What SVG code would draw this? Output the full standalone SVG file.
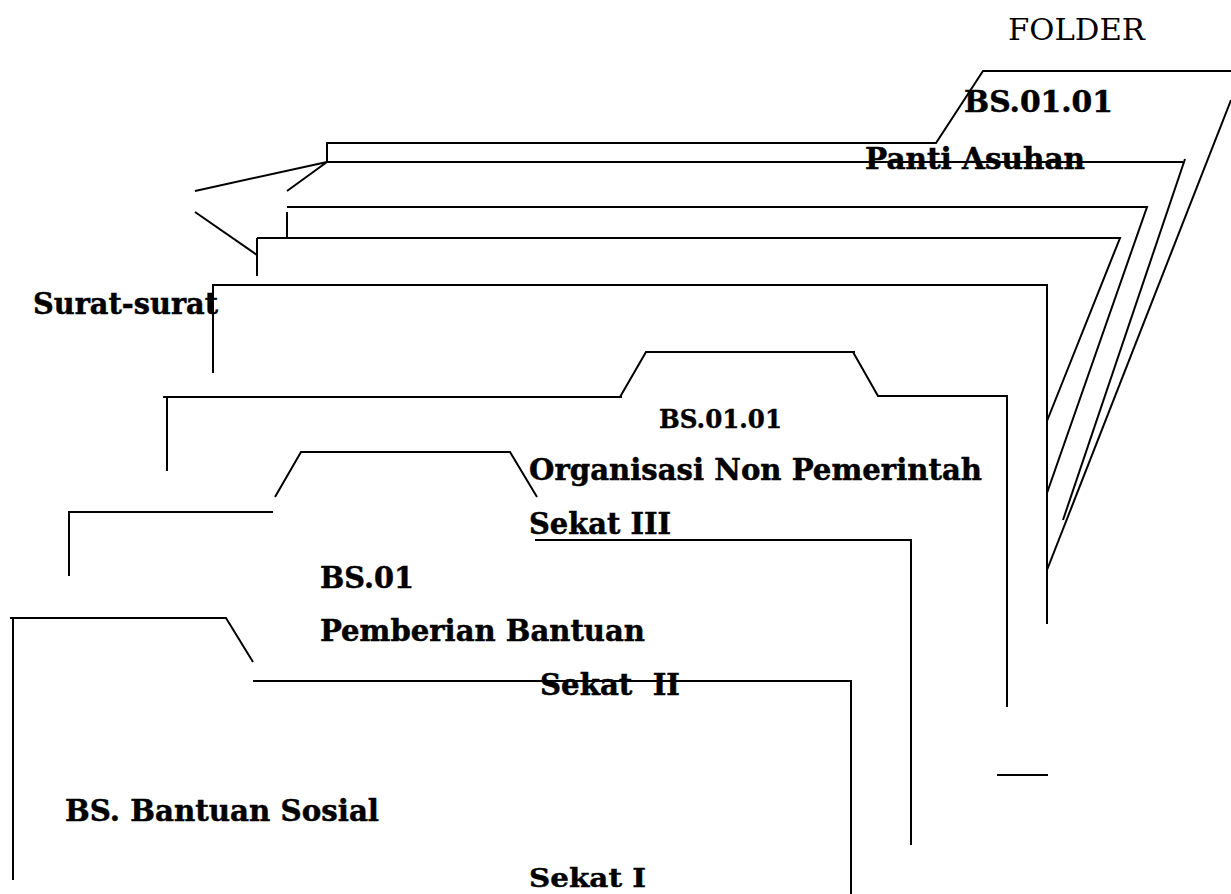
<svg xmlns="http://www.w3.org/2000/svg" width="1231" height="894" viewBox="0 0 1231 894">
<style>
.l{fill:none;stroke:#000;stroke-width:2;stroke-linejoin:miter}
text{font-family:"DejaVu Serif","Liberation Serif",serif;fill:#000;white-space:pre}
.b{font-weight:bold;font-size:30px;stroke:#000;stroke-width:.5}
.s{font-weight:bold;font-size:26px;stroke:#000;stroke-width:.4}
.r{font-size:29px}
</style>
<rect width="1231" height="894" fill="#fff"/>
<g id="connectors">
<path class="l" d="M327 162V143H936L983 71H1231"/>
<path class="l" d="M1231 100L1047 570"/>
<path class="l" d="M327 162H1183"/>
<path class="l" d="M1185 159L1063 520"/>
<path class="l" d="M287 207H1147L1047 493"/>
<path class="l" d="M257 238H1120L1047 421"/>
<path class="l" d="M213 373V285H1047V624"/>
<path class="l" d="M195 191L327 162L287 191"/>
<path class="l" d="M195 212L257 255"/>
<path class="l" d="M257 276V238"/>
<path class="l" d="M287 212V238"/>
<path class="l" d="M163 397H622"/>
<path class="l" d="M167 397V471"/>
<path class="l" d="M620 397L646 352H855"/>
<path class="l" d="M853 352L878 396H1007V707"/>
<path class="l" d="M69 576V512H273"/>
<path class="l" d="M275 497L301 452H510L537 497"/>
<path class="l" d="M535 540H911V845"/>
<path class="l" d="M10 618H226L253 662"/>
<path class="l" d="M13 618V880"/>
<path class="l" d="M253 681H851V894"/>
<path class="l" d="M997 775H1048"/>
</g>
<g id="folder-label"><text class="r" x="1008" y="40" textLength="137" lengthAdjust="spacingAndGlyphs">FOLDER</text></g>
<g id="folder-tab"><text class="b" x="964" y="112" textLength="149" lengthAdjust="spacingAndGlyphs">BS.01.01</text><text class="b" x="865" y="169" textLength="220" lengthAdjust="spacingAndGlyphs">Panti Asuhan</text></g>
<g id="surat"><text class="b" x="33" y="314" textLength="185" lengthAdjust="spacingAndGlyphs">Surat-surat</text></g>
<g id="sekat-3"><text class="s" x="659" y="428" textLength="123" lengthAdjust="spacingAndGlyphs">BS.01.01</text><text class="b" x="529" y="480" textLength="453" lengthAdjust="spacingAndGlyphs">Organisasi Non Pemerintah</text><text class="b" x="529" y="534" textLength="142" lengthAdjust="spacingAndGlyphs">Sekat III</text></g>
<g id="sekat-2"><text class="b" x="320" y="588" textLength="94" lengthAdjust="spacingAndGlyphs">BS.01</text><text class="b" x="320" y="641" textLength="325" lengthAdjust="spacingAndGlyphs">Pemberian Bantuan</text><text class="b" x="540" y="695" textLength="140" lengthAdjust="spacingAndGlyphs">Sekat  II</text></g>
<g id="sekat-1"><text class="b" x="65" y="821" textLength="314" lengthAdjust="spacingAndGlyphs">BS. Bantuan Sosial</text><text class="s" x="529" y="887" textLength="117" lengthAdjust="spacingAndGlyphs">Sekat I</text></g>
</svg>
